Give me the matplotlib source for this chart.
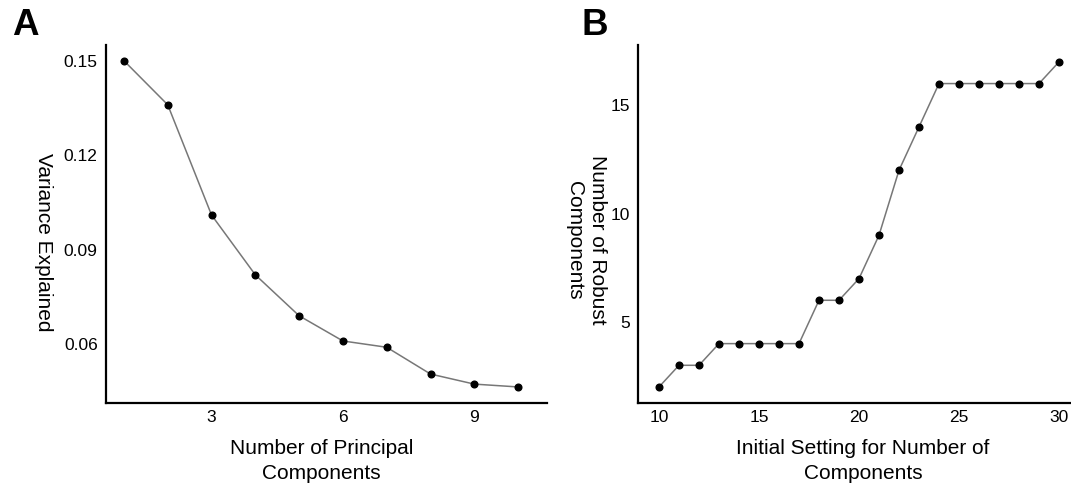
import matplotlib
matplotlib.use('Agg')
import matplotlib.pyplot as plt

plt.rcParams['font.family'] = ['Liberation Sans', 'DejaVu Sans']

# panel A: scree plot
n_components = [1, 2, 3, 4, 5, 6, 7, 8, 9, 10]
variance_explained = [0.150, 0.136, 0.101, 0.082, 0.069, 0.061, 0.059, 0.0505, 0.0473, 0.0464]
a_yticks = [0.06, 0.09, 0.12, 0.15]
a_xticks = [3, 6, 9]

# panel B: robust components vs initial setting
initial_setting = list(range(10, 31))
robust_components = [2, 3, 3, 4, 4, 4, 4, 4, 6, 6, 7, 9, 12, 14, 16, 16, 16, 16, 16, 16, 17]
b_yticks = [5, 10, 15]
b_xticks = [10, 15, 20, 25, 30]

W, H = 1071, 487
fig = plt.figure(figsize=(W / 100, H / 100), dpi=100)


def px_axes(left, top, right, bottom):
    return fig.add_axes([left / W, 1 - bottom / H, (right - left) / W, (bottom - top) / H])


def style(ax):
    for side in ['top', 'right']:
        ax.spines[side].set_visible(False)
    for side in ['left', 'bottom']:
        ax.spines[side].set_linewidth(1.6)
    ax.tick_params(length=0, labelsize=12.5)
    ax.tick_params(axis='y', pad=6)
    ax.tick_params(axis='x', pad=5)


def draw(ax, x, y):
    ax.plot(x, y, '-', color='#777777', lw=1.1, zorder=2)
    ax.plot(x, y, 'o', color='black', markersize=4.8, zorder=3)


ax1 = px_axes(106, 45, 547, 403)
draw(ax1, n_components, variance_explained)
style(ax1)
ax1.set_xlim(0.59, 10.66)
ax1.set_ylim(0.0413, 0.155)
ax1.set_xticks(a_xticks)
ax1.set_yticks(a_yticks)
ax1.set_yticklabels(['%.2f' % v for v in a_yticks])
ax1.set_xlabel('Number of Principal\nComponents', fontsize=15, linespacing=1.35)
ax1.xaxis.set_label_coords(0.489, -0.162)
ax1.xaxis.label.set_va('center')
ax1.set_ylabel('Variance Explained', fontsize=15, rotation=270)
ax1.yaxis.set_label_coords(-0.142, 0.45)
ax1.yaxis.label.set_va('center')

ax2 = px_axes(638, 45, 1071, 403)
draw(ax2, initial_setting, robust_components)
style(ax2)
ax2.set_xlim(8.95, 30.6)
ax2.set_ylim(1.26, 17.78)
ax2.set_xticks(b_xticks)
ax2.set_yticks(b_yticks)
ax2.set_xlabel('Initial Setting for Number of\nComponents', fontsize=15, linespacing=1.35)
ax2.xaxis.set_label_coords(0.52, -0.162)
ax2.xaxis.label.set_va('center')
ax2.set_ylabel('Number of Robust\nComponents', fontsize=15, rotation=270, linespacing=1.3)
ax2.yaxis.set_label_coords(-0.12, 0.455)
ax2.yaxis.label.set_va('center')

fig.text(12 / W, 1 - 25.5 / H, 'A', fontsize=26.5, fontweight='bold', va='center', ha='left')
fig.text(581 / W, 1 - 25.5 / H, 'B', fontsize=26.5, fontweight='bold', va='center', ha='left')

fig.savefig('out.png', dpi=100)
